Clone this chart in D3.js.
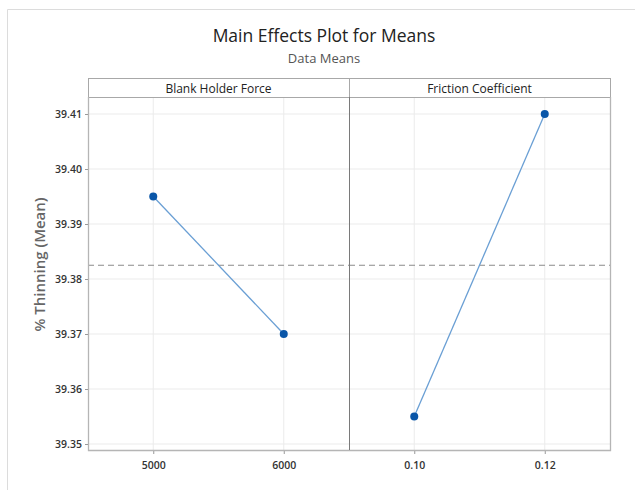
<!DOCTYPE html>
<html>
<head>
<meta charset="utf-8">
<script src="https://cdn.jsdelivr.net/npm/d3@7"></script>
<style>
  body { margin: 0; background: white; }
</style>
</head>
<body>
<script>
// データ
const factors = ["Blank Holder Force", "Friction Coefficient"];
const bhfLevels = ["5000", "6000"];
const bhfMeans = [39.395, 39.370];
const fcLevels = ["0.10", "0.12"];
const fcMeans = [39.355, 39.410];
const overallMean = 39.3825;
const yTicks = [39.35, 39.36, 39.37, 39.38, 39.39, 39.40, 39.41];

const panels = [
  { name: factors[0], levels: bhfLevels, means: bhfMeans },
  { name: factors[1], levels: fcLevels, means: fcMeans }
];

const W = 635, H = 490;
const plotL = 88, plotR = 610, headT = 78, plotT = 97, plotB = 450;
const font = "'Open Sans', 'Noto Sans', sans-serif";

const svg = d3.select("body").append("svg")
  .attr("width", W)
  .attr("height", H)
  .style("font-family", font);

// 外枠
svg.append("path")
  .attr("d", `M7.5,${H}V9.5H${W}`)
  .attr("fill", "none")
  .attr("stroke", "#dcdcdc");

// タイトル
svg.append("text")
  .attr("x", 324).attr("y", 42)
  .attr("text-anchor", "middle")
  .attr("font-size", "17.5px")
  .attr("font-weight", 500)
  .attr("fill", "#222")
  .text("Main Effects Plot for Means");

svg.append("text")
  .attr("x", 324).attr("y", 63)
  .attr("text-anchor", "middle")
  .attr("font-size", "13px")
  .attr("fill", "#555")
  .text("Data Means");

const y = d3.scaleLinear()
  .domain([39.35, 39.41])
  .range([444, 114]);

const panelW = (plotR - plotL) / panels.length;

// 横グリッド
svg.append("g")
  .selectAll("line")
  .data(yTicks)
  .join("line")
  .attr("x1", plotL).attr("x2", plotR)
  .attr("y1", d => y(d)).attr("y2", d => y(d))
  .attr("stroke", "#ebebeb");

panels.forEach((p, i) => {
  const x0 = plotL + i * panelW;
  const x = d3.scalePoint()
    .domain(p.levels)
    .range([x0, x0 + panelW])
    .padding(0.5);

  // 縦グリッド
  svg.append("g")
    .selectAll("line")
    .data(p.levels)
    .join("line")
    .attr("x1", d => x(d)).attr("x2", d => x(d))
    .attr("y1", plotT).attr("y2", plotB)
    .attr("stroke", "#ebebeb");

  // ヘッダー
  svg.append("rect")
    .attr("x", x0 + 0.5).attr("y", headT + 0.5)
    .attr("width", panelW).attr("height", plotT - headT)
    .attr("fill", "white")
    .attr("stroke", "#a8a8a8");

  svg.append("text")
    .attr("x", x0 + panelW / 2).attr("y", headT + 14.5)
    .attr("text-anchor", "middle")
    .attr("font-size", "12px")
    .attr("font-weight", 500)
    .attr("fill", "#222")
    .text(p.name);

  // x軸
  const xAxis = svg.append("g")
    .attr("transform", `translate(0,${plotB})`)
    .call(d3.axisBottom(x).tickSize(4).tickSizeOuter(0));
  xAxis.select(".domain").remove();
  xAxis.selectAll(".tick line").attr("stroke", "#999");
  xAxis.selectAll("text")
    .attr("font-family", font)
    .attr("font-size", "10.5px")
    .attr("font-weight", 600)
    .attr("fill", "#333")
    .attr("dy", "1.1em");

  // 平均線
  svg.append("line")
    .attr("x1", x0).attr("x2", x0 + panelW)
    .attr("y1", y(overallMean)).attr("y2", y(overallMean))
    .attr("stroke", "#8a8a8a")
    .attr("stroke-width", 1.2)
    .attr("stroke-dasharray", "6,4");

  const pts = p.levels.map((l, j) => [x(l), y(p.means[j])]);

  svg.append("path")
    .attr("d", d3.line()(pts))
    .attr("fill", "none")
    .attr("stroke", "#6a9fd4")
    .attr("stroke-width", 1.3);

  svg.append("g")
    .selectAll("circle")
    .data(pts)
    .join("circle")
    .attr("cx", d => d[0]).attr("cy", d => d[1])
    .attr("r", 4)
    .attr("fill", "#0a56a8");
});

// パネル枠
svg.append("path")
  .attr("d", `M${plotL + 0.5},${plotT}V${plotB + 0.5}H${plotR + 0.5}V${plotT}`)
  .attr("fill", "none")
  .attr("stroke", "#b5b5b5")
  .attr("stroke-width", 1.3);

svg.append("line")
  .attr("x1", plotL + panelW + 0.5).attr("x2", plotL + panelW + 0.5)
  .attr("y1", plotT).attr("y2", plotB)
  .attr("stroke", "#7a7a7a");

// y軸
const yAxis = svg.append("g")
  .attr("transform", `translate(${plotL},0)`)
  .call(d3.axisLeft(y).tickValues(yTicks).tickFormat(d3.format(".2f")).tickSize(3));
yAxis.select(".domain").remove();
yAxis.selectAll(".tick line").attr("stroke", "#999");
yAxis.selectAll("text")
  .attr("font-family", font)
  .attr("font-size", "10.5px")
  .attr("font-weight", 600)
  .attr("fill", "#333");

svg.append("text")
  .attr("transform", `translate(45,${(plotT + plotB) / 2 - 9}) rotate(-90)`)
  .attr("text-anchor", "middle")
  .attr("font-size", "15px")
  .attr("font-weight", 600)
  .attr("fill", "#666")
  .text("% Thinning (Mean)");
</script>
</body>
</html>
